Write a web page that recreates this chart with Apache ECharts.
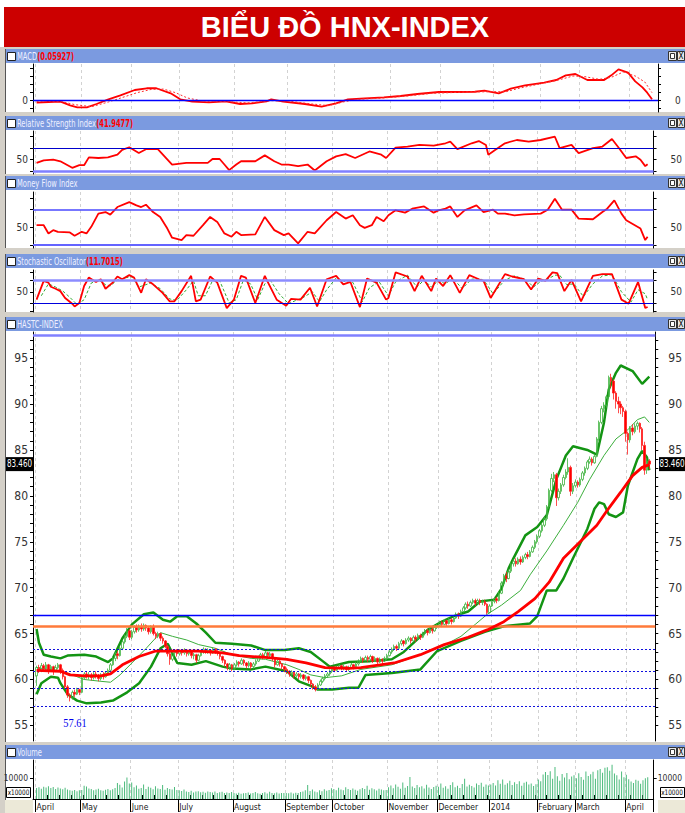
<!DOCTYPE html>
<html><head><meta charset="utf-8">
<script src="https://cdn.jsdelivr.net/npm/echarts@6/dist/echarts.min.js"></script>
<style>html,body{margin:0;padding:0;background:#fff}#c{width:685px;height:813px}</style>
</head><body><div id="c"></div>
<script>
// ---------------- DATA ----------------
const titleText = 'BIỂU ĐỒ HNX-INDEX';
const monthNames = ['April','May','June','July','August','September','October','November','December','2014','February','March','April'];
const monthDays = [19,21,20,23,22,20,23,21,22,20,16,21,10];

// [open, close, low, high] per trading day
const ohlcApr13 = [[60.4,61.3,59.3,61.5],[61.3,61.0,60.7,61.6],[61.0,61.5,60.8,61.8],[61.5,61.2,60.9,61.7],[61.2,61.6,61.0,61.9],[61.6,61.1,60.6,61.7],[61.1,61.4,60.9,61.6],[61.4,61.0,60.5,61.5],[61.0,61.3,60.8,61.6],[61.3,61.6,61.1,61.8],[61.6,61.0,60.6,61.7],[61.0,60.3,60.0,61.2],[60.3,59.2,59.0,60.4],[59.2,58.3,58.0,59.4],[58.3,58.0,57.61,58.5],[58.0,58.6,57.8,58.8],[58.6,58.4,58.1,58.9],[58.4,58.9,58.3,59.1],[58.9,58.6,58.3,59.0]];
const ohlcMay13 = [[58.6,60.2,58.5,60.4],[60.2,60.6,60.0,60.8],[60.6,60.3,60.1,60.9],[60.3,60.5,60.0,60.8],[60.5,60.2,59.9,60.7],[60.2,60.6,60.0,60.8],[60.6,60.4,60.1,60.9],[60.4,60.1,59.8,60.6],[60.1,60.5,59.9,60.7],[60.5,60.3,60.0,60.8],[60.3,60.7,60.2,60.9],[60.7,61.0,60.5,61.2],[61.0,61.6,60.9,61.8],[61.6,62.3,61.5,62.5],[62.3,62.8,62.0,63.0],[62.8,62.6,62.2,63.1],[62.6,63.4,62.5,63.6],[63.4,64.1,63.2,64.3],[64.1,64.7,63.9,64.9],[64.7,65.3,64.5,65.6],[65.3,64.6,64.3,65.5]];
const ohlcJun13 = [[64.6,65.2,64.4,65.4],[65.2,65.7,65.0,65.9],[65.7,65.4,65.1,66.0],[65.4,65.8,65.2,66.0],[65.8,65.5,65.2,66.1],[65.5,65.9,65.3,66.1],[65.9,65.6,65.3,66.0],[65.6,65.2,64.9,65.8],[65.2,65.7,65.0,65.9],[65.7,65.0,64.8,66.0],[65.0,64.7,64.4,65.2],[64.7,65.0,64.5,65.2],[65.0,64.5,64.2,65.1],[64.5,64.2,63.9,64.7],[64.2,63.6,63.4,64.3],[63.6,62.8,62.5,63.8],[62.8,62.2,61.6,63.0],[62.2,62.9,62.0,63.1],[62.9,63.1,62.6,63.3],[63.1,62.8,62.5,63.3]];
const ohlcJul13 = [[62.8,63.1,62.6,63.3],[63.1,62.9,62.6,63.2],[62.9,63.2,62.7,63.4],[63.2,62.8,62.5,63.3],[62.8,63.0,62.6,63.2],[63.0,62.6,62.3,63.1],[62.6,62.7,62.2,62.9],[62.7,62.1,61.8,62.8],[62.1,62.6,62.0,62.8],[62.6,63.0,62.5,63.2],[63.0,63.3,62.8,63.5],[63.3,63.0,62.8,63.4],[63.0,63.2,62.8,63.4],[63.2,62.9,62.6,63.3],[62.9,63.3,62.8,63.5],[63.3,63.1,62.8,63.4],[63.1,62.9,62.6,63.2],[62.9,62.5,62.2,63.0],[62.5,62.1,61.8,62.6],[62.1,61.7,61.4,62.2],[61.7,61.3,61.0,61.8],[61.3,61.6,61.0,61.8],[61.6,61.2,60.9,61.7]];
const ohlcAug13 = [[61.2,61.6,61.0,61.8],[61.6,61.9,61.4,62.1],[61.9,61.7,61.4,62.0],[61.7,62.1,61.6,62.3],[62.1,61.8,61.5,62.2],[61.8,61.5,61.2,61.9],[61.5,61.8,61.3,62.0],[61.8,61.4,61.1,61.9],[61.4,61.7,61.2,61.9],[61.7,62.0,61.5,62.2],[62.0,62.4,61.9,62.6],[62.4,62.7,62.2,62.9],[62.7,62.5,62.2,62.9],[62.5,62.9,62.4,63.1],[62.9,62.6,62.3,63.0],[62.6,62.8,62.4,63.0],[62.8,62.3,62.0,62.9],[62.3,61.6,61.3,62.4],[61.6,62.0,61.5,62.2],[62.0,61.7,61.4,62.1],[61.7,61.4,61.1,61.8],[61.4,61.1,60.8,61.5]];
const ohlcSep13 = [[61.1,60.9,60.6,61.3],[60.9,60.6,60.3,61.0],[60.6,60.8,60.4,61.0],[60.8,60.4,60.1,60.9],[60.4,60.6,60.2,60.8],[60.6,60.3,60.0,60.7],[60.3,60.5,60.1,60.7],[60.5,60.1,59.9,60.6],[60.1,60.3,59.9,60.5],[60.3,59.9,59.6,60.4],[59.9,59.5,59.2,60.0],[59.5,59.2,58.9,59.6],[59.2,58.9,58.7,59.4],[58.9,59.4,58.8,59.6],[59.4,59.8,59.3,60.0],[59.8,60.1,59.6,60.3],[60.1,60.4,59.9,60.6],[60.4,60.6,60.2,60.8],[60.6,60.9,60.4,61.1],[60.9,61.2,60.7,61.4]];
const ohlcOct13 = [[61.2,61.0,60.8,61.4],[61.0,61.3,60.9,61.5],[61.3,61.5,61.1,61.7],[61.5,61.2,61.0,61.6],[61.2,61.4,61.0,61.6],[61.4,61.1,60.9,61.5],[61.1,61.3,60.9,61.5],[61.3,61.6,61.2,61.8],[61.6,61.4,61.1,61.7],[61.4,61.7,61.3,61.9],[61.7,62.0,61.5,62.2],[62.0,62.3,61.9,62.5],[62.3,62.1,61.8,62.4],[62.1,62.4,62.0,62.6],[62.4,62.2,61.9,62.6],[62.2,62.5,62.0,62.7],[62.5,62.0,61.8,62.6],[62.0,62.3,61.9,62.5],[62.3,61.9,61.6,62.4],[61.9,62.2,61.8,62.4],[62.2,62.0,61.7,62.3],[62.0,62.3,61.9,62.5],[62.3,62.6,62.1,62.8]];
const ohlcNov13 = [[62.6,63.0,62.5,63.2],[63.0,63.3,62.8,63.5],[63.3,63.6,63.1,63.8],[63.6,63.4,63.1,63.8],[63.4,63.9,63.3,64.1],[63.9,64.2,63.7,64.4],[64.2,63.9,63.6,64.3],[63.9,64.3,63.8,64.5],[64.3,64.5,64.1,64.7],[64.5,64.2,63.9,64.6],[64.2,64.6,64.1,64.8],[64.6,64.4,64.1,64.8],[64.4,64.8,64.3,65.0],[64.8,64.6,64.3,65.0],[64.6,65.0,64.5,65.2],[65.0,65.3,64.8,65.5],[65.3,65.1,64.8,65.5],[65.1,65.5,65.0,65.7],[65.5,65.3,65.0,65.7],[65.3,65.7,65.2,65.9],[65.7,65.9,65.5,66.1]];
const ohlcDec13 = [[65.9,66.2,65.7,66.4],[66.2,66.0,65.7,66.4],[66.0,66.4,65.9,66.6],[66.4,66.1,65.8,66.5],[66.1,66.5,66.0,66.7],[66.5,66.3,66.0,66.7],[66.3,66.7,66.2,66.9],[66.7,67.1,66.6,67.3],[67.1,66.9,66.6,67.3],[66.9,67.4,66.8,67.6],[67.4,67.8,67.3,68.0],[67.8,68.2,67.6,68.4],[68.2,68.0,67.7,68.5],[68.0,68.4,67.9,68.6],[68.4,68.6,68.2,68.8],[68.6,68.3,68.0,68.8],[68.3,68.6,68.2,68.8],[68.6,68.4,68.1,68.8],[68.4,68.5,68.1,68.7],[68.5,68.2,68.0,68.7],[68.2,67.3,67.1,68.3],[67.3,68.0,67.2,68.2]];
const ohlcJan14 = [[68.0,68.5,67.9,68.7],[68.5,68.8,68.3,69.0],[68.8,68.6,68.3,69.0],[68.6,69.4,68.5,69.6],[69.4,70.5,69.3,70.7],[70.5,71.3,70.3,71.5],[71.3,71.0,70.6,71.7],[71.0,71.8,70.9,72.0],[71.8,72.6,71.6,72.8],[72.6,72.9,72.3,73.1],[72.9,72.6,72.3,73.2],[72.6,73.1,72.5,73.3],[73.1,72.8,72.5,73.4],[72.8,73.3,72.7,73.5],[73.3,73.6,73.1,73.8],[73.6,73.4,73.1,73.9],[73.4,73.9,73.3,74.1],[73.9,74.4,73.8,74.6],[74.4,75.0,74.2,75.2],[75.0,75.6,74.8,75.8]];
const ohlcFeb14 = [[75.6,76.2,75.4,76.4],[76.2,76.8,76.0,77.0],[76.8,77.5,76.6,77.7],[77.5,78.8,77.3,79.0],[78.8,80.6,78.6,80.8],[80.6,81.9,80.4,82.4],[81.9,82.3,81.5,82.6],[82.3,79.8,78.9,82.5],[79.8,80.5,79.5,80.8],[80.5,81.2,80.2,81.4],[81.2,82.0,81.0,82.3],[82.0,82.6,81.8,82.9],[82.6,83.1,82.3,84.1],[83.1,80.5,80.0,83.3],[80.5,81.1,80.2,81.4],[81.1,81.5,80.9,81.8]];
const ohlcMar14 = [[81.5,81.2,80.9,81.7],[81.2,81.8,81.0,82.0],[81.8,82.5,81.6,82.7],[82.5,83.0,82.2,83.2],[83.0,83.7,82.8,83.9],[83.7,84.0,83.5,84.3],[84.0,83.6,83.3,84.2],[83.6,84.3,83.5,84.5],[84.3,86.2,84.2,86.4],[86.2,88.0,86.0,88.2],[88.0,89.5,87.8,89.8],[89.5,89.9,89.1,90.2],[89.9,90.8,89.6,91.0],[90.8,92.9,90.6,93.1],[92.9,92.5,91.8,93.3],[92.5,91.2,90.5,92.7],[91.2,90.3,89.5,91.4],[90.3,90.0,89.0,90.8],[90.0,89.6,88.9,90.3],[89.6,89.2,88.6,89.8],[89.2,86.8,85.9,89.4]];
const ohlcApr14 = [[86.8,86.1,84.5,87.0],[86.1,87.4,85.8,87.6],[87.4,87.0,86.6,87.8],[87.0,87.6,86.8,87.9],[87.6,87.9,87.2,88.1],[87.9,87.3,86.9,88.0],[87.3,85.5,85.0,87.5],[85.5,82.8,82.3,85.9],[82.8,83.8,82.4,84.1],[83.8,83.46,82.9,84.0]];

// volume (x10000)
const volApr13 = [5200,5600,4900,5800,5400,6000,5200,5700,4800,5500,5000,4600,5300,4500,4200,3900,4300,3700,4100];
const volMay13 = [4300,6300,5900,5000,4700,4200,4500,4900,4200,3900,4400,4700,4100,4600,5200,7600,6800,5400,8300,10200,7400];
const volJun13 = [7800,5600,6400,4900,5200,6900,4700,5800,5300,4600,6100,5000,4700,6600,4400,5200,4800,4500,5700,4300];
const volJul13 = [4200,3800,4500,3600,3300,3900,3100,3500,3700,3200,3400,3000,3600,3300,3100,3500,2900,3200,3400,2800,3100,2900,3300];
const volAug13 = [2800,2600,3000,2500,2700,2900,3100,2600,2800,3300,2700,2500,2900,3200,2600,3400,2800,2700,3100,2600,2900,2800];
const volSep13 = [2900,2700,3100,2600,3000,2800,3300,3500,4100,6600,3800,4500,3600,3200,4200,3700,4600,3900,4300,5100];
const volOct13 = [4800,4200,5300,4500,4100,5600,4700,4300,5000,4400,3900,4600,5200,4800,6300,4400,5100,4600,4000,4900,4500,4200,4300];
const volNov13 = [5600,6400,5100,6900,5800,4900,7800,5300,6200,10400,5900,5200,6600,5600,6100,5000,6800,5400,4800,5700,6300];
const volDec13 = [5800,7400,5300,6100,4900,6700,7900,5600,6300,5200,7100,9600,5900,6800,6200,5400,7300,6600,7700,5800,6900,6400];
const volJan14 = [6900,7600,6400,8900,7200,9300,6800,7500,8600,6600,7900,7100,8400,6300,7700,8200,6900,7400,6200,7000];
const volFeb14 = [9200,8400,11600,12800,11400,13200,9600,15200,10800,8600,11900,10200,12300,9400,10700,11300];
const volMar14 = [9800,12200,10400,9100,13100,10900,11700,12900,9600,13600,14200,12400,14800,15100,13400,16200,12100,11300,9200,13000,10300];
const volApr14 = [11500,9400,8300,7600,9100,8700,7200,8900,9900,10300];

// overlay lines: [day index, value]
const bbUpper = [[0,65.5],[1,64.0],[3,62.7],[6,62.5],[10,62.3],[13,62.6],[20,62.7],[25,62.5],[30,61.9],[32,62.3],[36,64.5],[40,66.0],[45,67.1],[49,67.3],[53,66.5],[56,66.3],[59,66.9],[63,66.9],[67,66.1],[71,65.1],[75,64.0],[82,63.9],[90,63.7],[96,63.2],[104,63.2],[110,63.4],[115,63.0],[120,62.0],[123,61.4],[131,61.9],[140,62.0],[149,62.2],[154,63.0],[159,64.2],[164,65.4],[170,66.3],[175,66.9],[181,67.4],[186,68.5],[192,68.7],[195,69.9],[198,72.1],[200,73.2],[205,75.7],[210,76.6],[214,77.9],[218,81.8],[222,84.4],[225,85.4],[231,85.0],[235,84.5],[238,88.0],[240,91.6],[243,93.4],[245,94.2],[250,93.6],[254,92.2],[257,93.0]];
const bbLower = [[0,58.4],[2,59.6],[6,60.3],[9,60.2],[10,59.6],[13,58.4],[17,57.7],[21,57.4],[27,57.5],[32,57.7],[38,58.6],[43,59.6],[48,61.4],[52,63.4],[55,63.9],[59,61.8],[65,61.6],[71,62.0],[78,61.4],[82,61.2],[90,61.1],[96,61.4],[105,60.9],[110,59.8],[115,59.3],[118,58.9],[124,58.9],[131,59.1],[135,59.1],[138,60.5],[149,60.7],[161,61.1],[168,63.1],[178,64.2],[188,65.2],[196,65.8],[203,66.0],[207,66.1],[210,66.9],[214,69.7],[218,69.7],[221,71.0],[225,73.2],[231,76.4],[234,78.6],[236,79.3],[238,79.1],[240,78.0],[243,77.7],[246,78.2],[248,81.1],[252,84.0],[254,84.9],[256,84.2],[257,82.8]];
const bbMiddle = [[0,61.3],[5,61.1],[13,60.7],[20,60.0],[27,59.8],[31,59.7],[35,60.5],[40,61.8],[46,63.4],[52,65.1],[57,64.7],[63,64.3],[68,63.8],[75,63.4],[82,62.7],[90,62.3],[96,62.2],[105,61.6],[110,61.1],[115,60.5],[121,60.2],[128,60.4],[136,61.1],[149,61.6],[161,62.7],[170,63.6],[178,64.7],[184,66.0],[189,67.1],[195,68.1],[203,69.7],[207,71.4],[214,74.0],[221,76.8],[227,79.3],[232,81.8],[238,84.4],[243,86.2],[248,87.2],[252,88.3],[255,88.6],[257,88.0]];
const maRed = [[0,61.0],[10,60.9],[14,60.5],[20,60.4],[27,60.4],[31,60.6],[36,61.6],[43,62.5],[50,63.1],[57,63.1],[68,63.1],[78,62.9],[85,62.6],[96,62.4],[105,62.2],[113,61.8],[121,61.3],[131,61.2],[136,61.3],[150,61.8],[161,62.7],[171,63.8],[181,64.6],[189,65.4],[196,66.3],[202,67.4],[209,68.8],[215,70.6],[221,73.2],[228,75.0],[235,76.8],[239,78.3],[245,80.4],[250,82.2],[254,83.1],[257,83.4]];

// indicators
const macdLine = [[0,-0.2],[5,-0.15],[10,-0.12],[14,-0.4],[17,-0.55],[21,-0.55],[25,-0.3],[30,0.05],[35,0.35],[41,0.75],[46,0.88],[50,0.88],[56,0.5],[60,0.05],[65,-0.12],[72,-0.18],[79,-0.1],[85,-0.3],[90,-0.25],[96,-0.1],[98,0.05],[103,-0.12],[112,-0.3],[119,-0.5],[125,-0.25],[130,0.05],[137,0.12],[145,0.2],[152,0.3],[159,0.45],[168,0.6],[176,0.6],[183,0.62],[187,0.7],[193,0.5],[198,0.85],[204,1.1],[212,1.3],[217,1.5],[221,1.85],[225,1.95],[230,1.5],[237,1.5],[240,1.85],[243,2.3],[247,2.05],[250,1.4],[253,0.95],[255,0.55],[257,0.06]];
const macdSignal = [[0,-0.1],[10,-0.1],[16,-0.35],[23,-0.5],[30,-0.15],[36,0.2],[42,0.55],[48,0.8],[53,0.82],[58,0.55],[63,0.15],[70,-0.1],[80,-0.12],[88,-0.22],[98,-0.05],[105,-0.08],[115,-0.3],[122,-0.42],[128,-0.15],[134,0.05],[145,0.15],[155,0.3],[165,0.5],[180,0.6],[190,0.62],[196,0.62],[202,0.9],[210,1.2],[218,1.5],[224,1.8],[229,1.75],[235,1.55],[240,1.7],[245,2.1],[250,1.8],[254,1.35],[257,0.55]];
const rsiLine = [[0,44.4],[3,48.9],[7,50],[10,47.2],[15,35.8],[18,40.4],[20,40.4],[22,54],[26,52.9],[30,54],[34,58.6],[36,67.2],[39,71.7],[43,61.5],[46,68.3],[51,68.3],[57,41.5],[63,44.4],[72,44.4],[74,51.2],[77,51.2],[79,41.5],[81,31.8],[84,41.5],[86,47.2],[92,47.2],[96,57.5],[100,47.2],[103,41.5],[106,41.5],[110,38.7],[114,41.5],[117,31.2],[122,47.2],[126,55.8],[130,59.7],[134,52.9],[140,64.3],[145,58.6],[147,52.9],[151,71.1],[156,72.9],[161,75.7],[167,74.6],[172,78.6],[174,81.4],[177,68.3],[183,78.6],[186,82.5],[189,75.7],[190,58.6],[193,67.2],[197,78.6],[202,84.3],[207,81.4],[212,84.3],[218,90],[220,70],[225,75.7],[228,61.5],[234,70],[238,72.9],[242,86],[245,70],[248,52.9],[252,55.8],[254,50],[256,38.7],[257,42]];
const mfiLine = [[0,53.7],[3,53.7],[5,39.7],[7,45.3],[9,42.5],[14,41.4],[16,35.8],[19,42.5],[21,39.7],[23,50.9],[26,73.3],[29,76],[31,71.6],[34,84.5],[39,92.9],[42,87.3],[44,84.5],[46,88.4],[49,76],[52,67.7],[55,48],[57,32.4],[61,28.5],[63,36.9],[66,35.8],[70,53.7],[73,67.7],[76,59.3],[79,39.7],[82,34.1],[84,42.5],[86,36.9],[92,38],[96,67.7],[100,45.3],[104,36.9],[106,39.7],[110,22.9],[114,42.5],[117,39.7],[122,62.1],[126,76],[130,64.9],[133,70.5],[136,53.7],[138,49.2],[141,53.7],[143,67.7],[146,60.4],[148,70.5],[151,78.9],[155,75],[158,81.7],[163,85.6],[167,75],[169,78.9],[172,81.7],[174,85.6],[177,67.7],[180,78.9],[185,87.3],[188,76],[192,80],[194,73.3],[197,73.3],[201,70.5],[205,72.2],[212,73.3],[215,80],[218,98.5],[221,80],[225,80],[228,64.9],[234,63.8],[238,76],[240,81.7],[243,95.7],[246,73.3],[248,62.1],[254,48],[256,28.5],[257,34.1]];
const stochK = [[0,30.2],[3,77.4],[5,73.1],[6,62.8],[8,57.7],[10,51.7],[12,34.5],[15,19.9],[16,13],[18,21.6],[20,64.5],[22,86],[25,74.8],[27,81.7],[29,57.7],[32,73.1],[34,88.6],[36,81.7],[39,92],[41,86],[44,47.4],[46,81.7],[49,68.8],[53,47.4],[56,25.9],[58,25.9],[61,51.7],[65,90.3],[67,25.9],[69,30.2],[73,88.6],[76,73.1],[80,8.8],[83,30.2],[86,90.3],[88,86],[92,21.6],[96,90.3],[97,77.4],[101,30.2],[105,14.8],[107,31.9],[111,30.2],[115,60.3],[118,13],[122,81.7],[126,90.3],[129,68.8],[132,74.8],[136,11.3],[139,83.4],[143,73.1],[147,30.2],[148,34.5],[151,98.9],[156,88.6],[159,51.7],[162,90.3],[166,51.7],[168,83.4],[171,64.5],[174,92],[178,47.4],[182,92],[186,81.7],[188,77.4],[191,34.5],[197,94.6],[200,88.6],[205,81.7],[208,56],[211,83.4],[214,77.4],[217,98.9],[219,97.2],[222,51.7],[225,80],[229,25.9],[234,90.3],[238,94.6],[242,94.6],[246,30.2],[249,19.9],[253,74.8],[256,9],[257,11.7]];
const stochD = [[2,40],[5,70],[8,62],[11,52],[14,36],[17,18],[20,30],[23,72],[26,80],[29,68],[31,65],[34,80],[37,85],[40,88],[43,62],[46,68],[48,72],[52,58],[56,32],[59,28],[63,55],[66,78],[68,40],[71,40],[74,78],[77,78],[81,22],[84,30],[87,80],[90,70],[93,30],[96,70],[98,82],[102,45],[106,20],[109,28],[112,35],[116,50],[119,25],[122,55],[126,85],[130,75],[133,74],[137,25],[140,60],[144,76],[148,40],[151,75],[156,92],[160,62],[163,80],[166,62],[169,78],[172,70],[175,85],[179,58],[183,82],[187,82],[189,72],[192,45],[197,80],[201,90],[206,80],[209,62],[212,76],[215,82],[218,92],[220,92],[223,68],[226,70],[230,38],[234,70],[238,90],[242,93],[246,50],[250,24],[253,55],[256,45],[257,30]];

// levels and labels
const levelTop = 97.5, levelBlue = 67.0, levelOrange = 65.85;
const levelDotted = [63.3, 60.9, 59.0, 57.1];
const lowIndex = 14, lowValue = 57.61;
const lastClose = 83.46;
const macdValue = '0.05927', rsiValue = '41.9477', stochValue = '11.7015';
const priceTicks = [55,60,65,70,75,80,85,90,95];

// ---------------- BUILD ----------------
const NARROW = "'Liberation Sans Narrow','DejaVu Sans Condensed','Arial Narrow','Liberation Sans',sans-serif";
const OFF = 1;
const cats = [''];
const monthStart = {};
monthDays.forEach((n, m) => { for (let k = 0; k < n; k++) { const idx = cats.length; if (k === 0) monthStart[idx] = monthNames[m]; cats.push('d' + idx); } });
cats.push('e1', 'e2');
const isMonth = (idx) => monthStart[idx] !== undefined;
const shift = a => a.map(p => [p[0] + OFF, p[1]]);

const ohlc = [].concat(ohlcApr13, ohlcMay13, ohlcJun13, ohlcJul13, ohlcAug13, ohlcSep13, ohlcOct13, ohlcNov13, ohlcDec13, ohlcJan14, ohlcFeb14, ohlcMar14, ohlcApr14);
const vol = [].concat(volApr13, volMay13, volJun13, volJul13, volAug13, volSep13, volOct13, volNov13, volDec13, volJan14, volFeb14, volMar14, volApr14);
const candleData = ohlc.map((d, i) => [i + OFF, d[0], d[1], d[2], d[3]]);
const volData = vol.map((v, i) => [i + OFF, v]);

const G = [{top:64,h:48},{top:131,h:43},{top:192,h:56},{top:270,h:42},{top:332,h:409},{top:760,h:39}];
const grid = G.map(g => ({left:33, top:g.top, width:625, height:g.h, show:false}));

const xAxis = G.map((g, i) => ({
  type:'category', gridIndex:i, data:cats, boundaryGap:true,
  axisLine:{show:i===5, lineStyle:{color:'#000'}},
  axisTick:{show:i===5, interval:(idx)=>isMonth(idx), length:13, lineStyle:{color:'#000'}},
  axisLabel:{show:i===5, interval:(idx)=>isMonth(idx), formatter:(v,idx)=>monthStart[idx]||'', align:'left', margin:3, fontSize:8.5, color:'#222', fontFamily:NARROW},
  splitLine:{show:true, interval:(idx)=>isMonth(idx), lineStyle:{color:'#d2d2d2', type:[3,3], width:1}}
}));
xAxis.push({type:'category', gridIndex:5, data:cats, boundaryGap:true, axisLine:{show:false},
  axisTick:{show:true, interval:(idx)=>(idx-1)%5===0 && !isMonth(idx), length:4, lineStyle:{color:'#000'}},
  axisLabel:{show:false}, splitLine:{show:false}});

function mkY(gi, pos, min, max, labels, ticks, fmt, fs, margin) {
  return {type:'value', gridIndex:gi, position:pos, min, max, scale:true,
    splitLine:{show:false},
    axisLine:{show:true, onZero:false, lineStyle:{color:'#000'}},
    axisTick:{show:true, customValues:ticks, length:3, lineStyle:{color:'#000'}},
    axisLabel:{customValues:labels, formatter:fmt, fontSize:fs, color:'#333', fontFamily:NARROW, margin:margin}};
}
const yCfg = [
  {min:-0.9, max:2.7, labels:[0], ticks:[-0.6,0,0.6,1.2,1.8,2.4], fmt:v=>'0', fs:10},
  {min:25, max:100, labels:[50], ticks:[30,50,70,90], fmt:v=>'50', fs:10},
  {min:15, max:110, labels:[50], ticks:[20,50,80,100], fmt:v=>'50', fs:10},
  {min:-1, max:105, labels:[50], ticks:[0,20,50,80,100], fmt:v=>'50', fs:10},
  {min:53.3, max:97.85, labels:priceTicks, ticks:Array.from({length:43},(_,k)=>55+k), fmt:v=>String(Math.round(v)), fs:12},
  {min:0, max:18500, labels:[10000], ticks:[10000], fmt:v=>'10000', fs:8.5}
];
const yAxis = [];
yCfg.forEach((c, gi) => {
  yAxis.push(mkY(gi, 'left', c.min, c.max, c.labels, c.ticks, c.fmt, c.fs, 5));
  yAxis.push(mkY(gi, 'right', c.min, c.max, c.labels, c.ticks, c.fmt, c.fs, gi===4 ? 13 : (gi===5 ? 4 : 17)));
});

const ml = (items) => ({silent:true, symbol:'none', label:{show:false}, animation:false, data:items});
const lineS = (name, xi, yi, data, color, width, type, z) => ({name, type:'line', xAxisIndex:xi, yAxisIndex:yi, data:shift(data), showSymbol:false, symbol:'none', lineStyle:{color, width, type:type||'solid'}, z:z||3});

const series = [];
const s0 = lineS('MACD', 0, 0, macdLine, '#ff0000', 1.8);
s0.markLine = ml([{yAxis:0, lineStyle:{color:'#0000ff', width:1.3, type:'solid'}}]);
series.push(s0);
series.push(lineS('Signal', 0, 0, macdSignal, '#ff3030', 1, [2,2]));
const s2 = lineS('RSI', 1, 2, rsiLine, '#ff0000', 1.8);
s2.markLine = ml([{yAxis:70, lineStyle:{color:'#0000cc', width:1.2, type:'solid'}},{yAxis:30, lineStyle:{color:'#7f7fff', width:2.5, type:'solid'}}]);
series.push(s2);
const s3 = lineS('MFI', 2, 4, mfiLine, '#ff0000', 1.8);
s3.markLine = ml([{yAxis:80, lineStyle:{color:'#4a4aff', width:1.6, type:'solid'}},{yAxis:20, lineStyle:{color:'#6464ff', width:2, type:'solid'}}]);
series.push(s3);
const s4 = lineS('%D', 3, 6, stochD, '#33aa33', 1, [3,2]);
s4.markLine = ml([{yAxis:80, lineStyle:{color:'#8c8cff', width:2.5, type:'solid'}},{yAxis:20, lineStyle:{color:'#0000dd', width:1.2, type:'solid'}}]);
series.push(s4);
series.push(lineS('%K', 3, 6, stochK, '#ff0000', 1.8, 'solid', 4));
const sTop = lineS('BB Upper', 4, 8, bbUpper, '#139413', 2.5);
sTop.markLine = ml([
  {yAxis:levelTop, lineStyle:{color:'#8080ff', width:2.5, type:'solid'}},
  {yAxis:levelBlue, lineStyle:{color:'#0000ff', width:1.3, type:'solid'}},
  {yAxis:levelOrange, lineStyle:{color:'#ff7a3a', width:2.5, type:'solid'}}
].concat(levelDotted.map(v => ({yAxis:v, lineStyle:{color:'#1010dd', width:1.2, type:[2,2]}}))));
series.push(sTop);
series.push(lineS('BB Lower', 4, 8, bbLower, '#139413', 2.5));
series.push(lineS('BB Middle', 4, 8, bbMiddle, '#3cae3c', 1));
series.push(lineS('MA', 4, 8, maRed, '#ff0000', 2.8, 'solid', 5));
const candleIdx = series.length;
series.push({name:'HASTC-INDEX', type:'candlestick', xAxisIndex:4, yAxisIndex:8, data:candleData, encode:{x:0, y:[1,2,3,4]},
  barWidth:2, itemStyle:{color:'rgba(255,255,255,0)', color0:'#ff0000', borderColor:'#3fb23f', borderColor0:'#ff2020', borderWidth:0.8}, z:4});
series.push({name:'Volume', type:'bar', xAxisIndex:5, yAxisIndex:10, data:volData, barWidth:1, itemStyle:{color:'#4cbb7c'}});

// ---------------- CHROME ----------------
const panels = [
  {name:'MACD', val:macdValue, head:49, bot:112},
  {name:'Relative Strength Index', val:rsiValue, head:116, bot:174},
  {name:'Money Flow Index', val:null, head:176, bot:248},
  {name:'Stochastic Oscillator', val:stochValue, head:254, bot:312},
  {name:'HASTC-INDEX', val:null, head:317, bot:742},
  {name:'Volume', val:null, head:745, bot:800}
];
const chrome = [];
chrome.push({type:'rect', shape:{x:0,y:47,width:685,height:766}, style:{fill:'#d4d0c8'}, z:-30, silent:true});
chrome.push({type:'rect', shape:{x:4,y:7,width:681,height:40}, style:{fill:'#cc0000'}, z:-29, silent:true});
chrome.push({type:'text', x:345, y:27, style:{text:titleText, fill:'#ffffff', font:'bold 29px "Liberation Sans", Arial, sans-serif', align:'center', verticalAlign:'middle'}, z:50, silent:true});
panels.forEach(p => {
  chrome.push({type:'rect', shape:{x:5,y:p.head+14,width:680,height:p.bot-p.head-14}, style:{fill:'#ffffff'}, z:-28, silent:true});
  chrome.push({type:'rect', shape:{x:5,y:p.head,width:680,height:14}, style:{fill:'#7b9ae0'}, z:-27, silent:true});
  chrome.push({type:'line', shape:{x1:5.5,y1:p.head,x2:5.5,y2:p.bot}, style:{stroke:'#555', lineWidth:1}, z:-26, silent:true});
  chrome.push({type:'rect', shape:{x:7.5,y:p.head+3.5,width:8,height:8}, style:{fill:'#fff', stroke:'#222', lineWidth:1}, z:-25, silent:true});
  chrome.push({type:'text', x:17, y:p.head+7.5, scaleX:0.75, style:{text: p.val ? '{n|' + p.name + '}{v|(' + p.val + ')}' : '{n|' + p.name + '}',
    rich:{n:{fill:'#eef0ff', fontSize:10, fontFamily:NARROW}, v:{fill:'#ff0000', fontSize:10, fontFamily:NARROW, fontWeight:'bold'}}, verticalAlign:'middle'}, z:-24, silent:true});
  chrome.push({type:'rect', shape:{x:668.5,y:p.head+2.5,width:8,height:9}, style:{fill:'#e8e8e8', stroke:'#333', lineWidth:1}, z:-24, silent:true});
  chrome.push({type:'rect', shape:{x:670.5,y:p.head+4.5,width:4,height:5}, style:{fill:'#fff', stroke:'#333', lineWidth:1}, z:-23, silent:true});
  chrome.push({type:'rect', shape:{x:677.5,y:p.head+2.5,width:7,height:9}, style:{fill:'#e8e8e8', stroke:'#333', lineWidth:1}, z:-24, silent:true});
  chrome.push({type:'text', x:681, y:p.head+7.5, style:{text:'X', fontSize:8, fill:'#000', align:'center', verticalAlign:'middle', fontFamily:NARROW}, z:-23, silent:true});
});
chrome.push({type:'rect', shape:{x:5,y:800,width:680,height:13}, style:{fill:'#ece9d8'}, z:-27, silent:true});
chrome.push({type:'rect', shape:{x:33,y:800,width:625,height:13}, style:{fill:'#ffffff'}, z:-26, silent:true});
[[6,18.5],[660,672]].forEach(([bx, cx]) => {
  chrome.push({type:'rect', shape:{x:bx+0.5,y:787.5,width:24,height:10}, style:{fill:'#fff', stroke:'#000', lineWidth:1}, z:20, silent:true});
  chrome.push({type:'text', x:cx, y:792.5, scaleX:0.85, style:{text:'x10000', fontSize:7.5, fill:'#000', align:'center', verticalAlign:'middle', fontFamily:NARROW}, z:21, silent:true});
});

const option = {animation:false, backgroundColor:'#ffffff', textStyle:{fontFamily:NARROW}, grid, xAxis, yAxis, series, graphic:{elements:chrome}};
const chart = echarts.init(document.getElementById('c'), null, {renderer:'svg', width:685, height:813});
chart.setOption(option);

// dynamic labels (positions from the axes)
const yLast = chart.convertToPixel({seriesIndex:candleIdx}, [OFF + 257, lastClose])[1];
const pLow = chart.convertToPixel({seriesIndex:candleIdx}, [OFF + lowIndex, lowValue]);
const dyn = chrome.slice();
[[6,19.5],[659,672]].forEach(([bx, cx]) => {
  dyn.push({type:'rect', shape:{x:bx,y:yLast-7,width:27,height:14}, style:{fill:'#000'}, z:30, silent:true});
  dyn.push({type:'text', x:cx, y:yLast, scaleX:0.8, style:{text:lastClose.toFixed(3), fontSize:10, fill:'#fff', align:'center', verticalAlign:'middle', fontFamily:NARROW}, z:31, silent:true});
});
dyn.push({type:'text', x:pLow[0]+5, y:pLow[1]+22, scaleX:0.8, style:{text:lowValue.toFixed(2), fontSize:13, fill:'#0000ee', align:'center', verticalAlign:'middle', fontFamily:"'Liberation Serif','DejaVu Serif',serif"}, z:31, silent:true});
chart.setOption({graphic:{elements:dyn}}, {replaceMerge:['graphic']});
</script></body></html>
